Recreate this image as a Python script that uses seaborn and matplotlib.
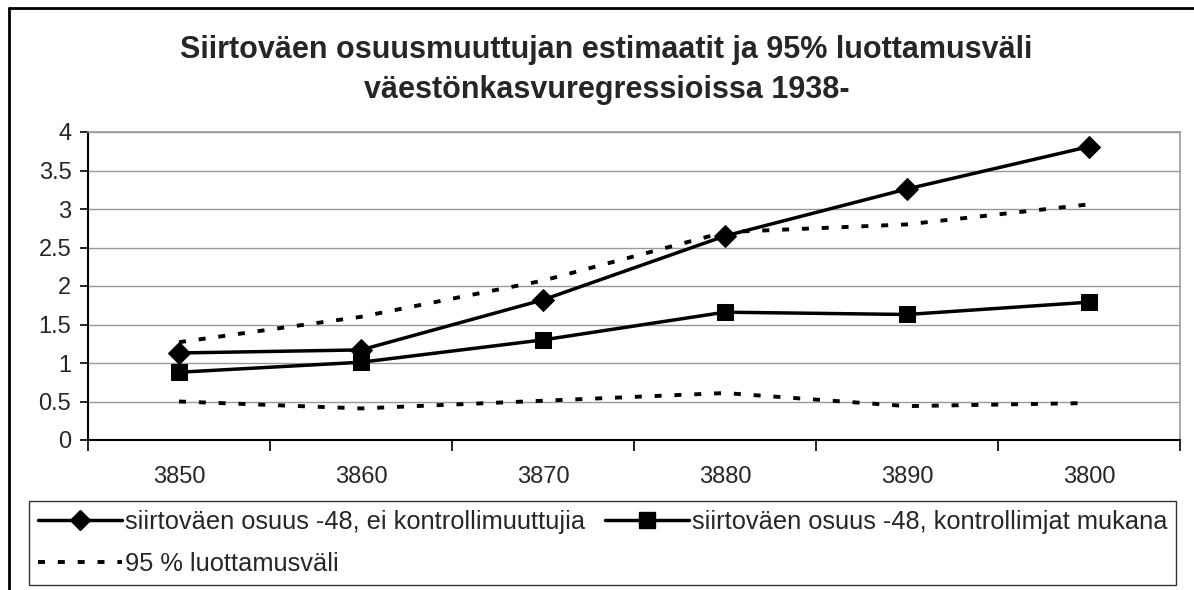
import pandas as pd
import numpy as np
import matplotlib
matplotlib.use('Agg')
import matplotlib.pyplot as plt
from matplotlib.lines import Line2D
from matplotlib.ticker import FuncFormatter, MultipleLocator
import seaborn as sns

# values
years = ['3850', '3860', '3870', '3880', '3890', '3800']
no_controls = [1.13, 1.17, 1.82, 2.65, 3.26, 3.81]
with_controls = [0.88, 1.01, 1.30, 1.66, 1.63, 1.79]
ci_upper = [1.27, 1.60, 2.07, 2.70, 2.80, 3.06]
ci_lower = [0.50, 0.41, 0.51, 0.61, 0.44, 0.48]

title = ('Siirtoväen osuusmuuttujan estimaatit ja 95% luottamusväli\n'
         'väestönkasvuregressioissa 1938-')
lab_no = 'siirtoväen osuus -48, ei kontrollimuuttujia'
lab_with = 'siirtoväen osuus -48, kontrollimjat mukana'
lab_ci = '95 % luottamusväli'

sns.set_theme(style='white')
plt.rcParams['font.family'] = ['Liberation Sans', 'DejaVu Sans']

df = pd.DataFrame({'year': years, 'no': no_controls, 'with': with_controls,
                   'up': ci_upper, 'low': ci_lower})

fig = plt.figure(figsize=(11.94, 5.90), dpi=100)
ax = fig.add_axes([88 / 1194, 1 - 440 / 590, (1180 - 88) / 1194, (440 - 132) / 590])

dash = dict(color='black', linewidth=2.8, dashes=(1.8, 3.3))
sns.lineplot(data=df, x='year', y='up', sort=False, ax=ax, **dash)
sns.lineplot(data=df, x='year', y='low', sort=False, ax=ax, **dash)
sns.lineplot(data=df, x='year', y='with', sort=False, ax=ax, color='black',
             linewidth=2.5, marker='s', markersize=12, markeredgecolor='black')
sns.lineplot(data=df, x='year', y='no', sort=False, ax=ax, color='black',
             linewidth=2.5, marker='D', markersize=11, markeredgecolor='black')

ax.set_xlim(-0.5, len(years) - 0.5)
ax.set_ylim(0, 4)
ax.yaxis.set_major_locator(MultipleLocator(0.5))
ax.yaxis.set_major_formatter(FuncFormatter(lambda v, p: f'{v:g}'))
ax.grid(axis='y', color='#999999', linewidth=1.0)
ax.set_axisbelow(True)
ax.set_xlabel('')
ax.set_ylabel('')

# ticks between categories, labels centred
ax.set_xticks(np.arange(-0.5, len(years), 1.0), minor=True)
ax.tick_params(axis='x', which='major', length=0, pad=19, labelsize=17)
ax.tick_params(axis='x', which='minor', length=8, width=1.2, color='black', direction='out', bottom=True)
ax.tick_params(axis='y', length=6, width=1.2, color='black', direction='out', left=True,
               labelsize=17, pad=6)

for side in ['top', 'right']:
    ax.spines[side].set_color('#999999')
    ax.spines[side].set_linewidth(1.2)
for side in ['left', 'bottom']:
    ax.spines[side].set_color('black')
    ax.spines[side].set_linewidth(1.5)

fig.text(0.508, 1 - 70 / 590, title, ha='center', va='center', fontsize=22,
         fontweight='bold', linespacing=1.45)

handles = [Line2D([], [], color='black', linewidth=2.5, marker='D', markersize=10),
           Line2D([], [], color='black', linewidth=2.8, dashes=(1.8, 3.3)),
           Line2D([], [], color='black', linewidth=2.5, marker='s', markersize=11)]
labels = [lab_no, lab_ci, lab_with]
leg = fig.legend(handles, labels, ncol=2, loc='lower left',
                 bbox_to_anchor=(29 / 1194, 1 - 585 / 590, (1176 - 29) / 1194, (585 - 500) / 590),
                 mode='expand', fontsize=18.3, frameon=True, fancybox=False,
                 handlelength=3.3, handletextpad=0.12, borderpad=0.35,
                 labelspacing=0.7, borderaxespad=0, columnspacing=0.5)
leg.get_frame().set_edgecolor('black')
leg.get_frame().set_linewidth(1.0)

# outer chart border (left and top edges visible)
fig.add_artist(Line2D([9 / 1194, 9 / 1194], [0, 1 - 8 / 590], color='black', linewidth=2,
                      transform=fig.transFigure))
fig.add_artist(Line2D([9 / 1194, 1], [1 - 8 / 590, 1 - 8 / 590], color='black', linewidth=2,
                      transform=fig.transFigure))

fig.savefig('out.png', dpi=100, facecolor='white')
